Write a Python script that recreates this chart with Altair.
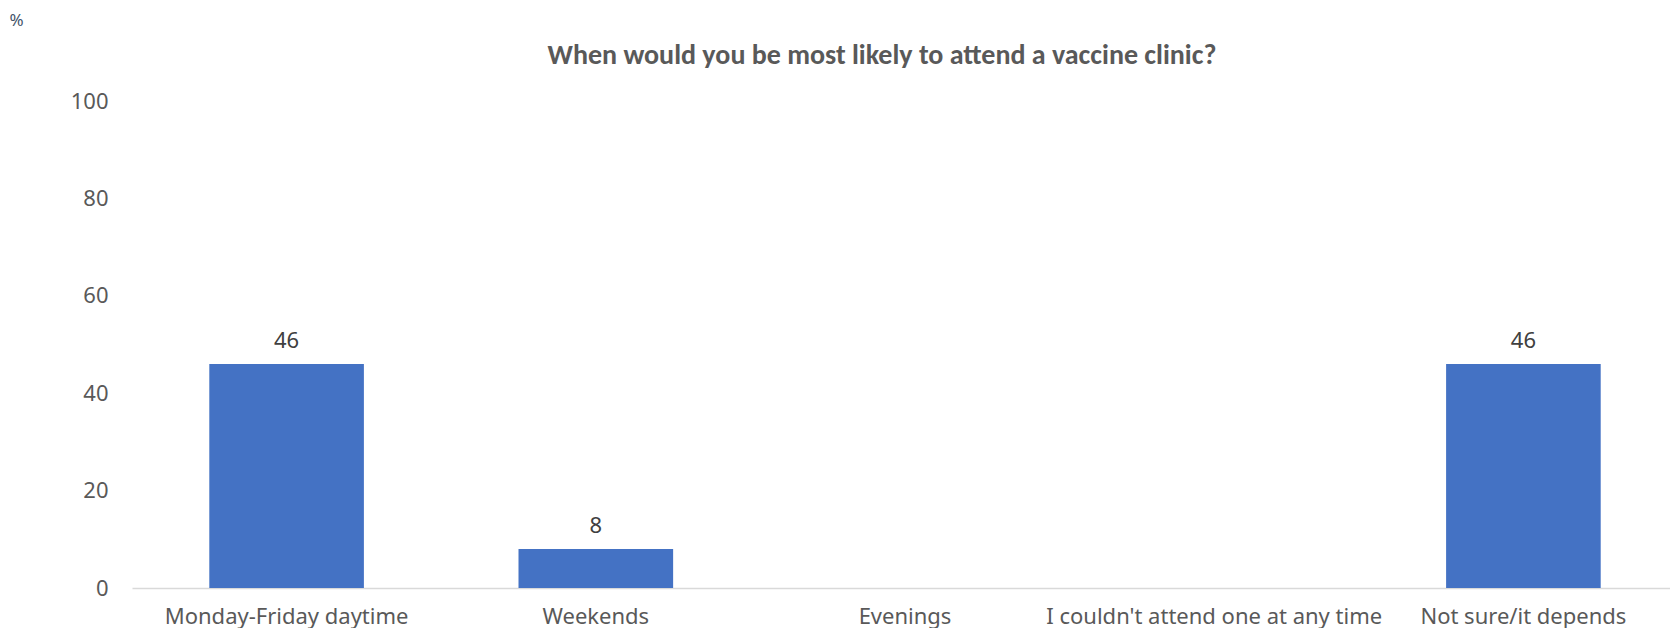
import altair as alt
import pandas as pd

categories = [
    "Monday-Friday daytime",
    "Weekends",
    "Evenings",
    "I couldn't attend one at any time",
    "Not sure/it depends",
]
values = [46, 8, 0, 0, 46]
y_ticks = [0, 20, 40, 60, 80, 100]
title_text = ["When would you be most likely to attend a vaccine clinic?"]

df = pd.DataFrame({"category": categories, "value": values})
title_df = pd.DataFrame({"title": title_text})

FONT = "Noto Sans, Open Sans, sans-serif"
TITLE_FONT = "Carlito, Calibri, Lato, sans-serif"
GREY = "#595959"

x_enc = alt.X(
    "category:N",
    sort=categories,
    scale=alt.Scale(paddingInner=0.5, paddingOuter=0.25, range=[0, 1546]),
    axis=alt.Axis(
        title=None,
        labelAngle=0,
        labelFontSize=22,
        labelColor=GREY,
        labelFont=FONT,
        labelPadding=18,
        ticks=False,
        tickSize=0,
        domainColor="#D9D9D9",
        domainWidth=1.5,
        labelLimit=400,
    ),
)

y_enc = alt.Y(
    "value:Q",
    scale=alt.Scale(domain=[0, 100], nice=False),
    axis=alt.Axis(
        title="%",
        titleAngle=0,
        titleAlign="left",
        titleBaseline="middle",
        titleX=-123,
        titleY=-81,
        titleFont=FONT,
        titleFontSize=17,
        titleFontWeight="normal",
        titleColor="#44546A",
        values=y_ticks,
        labelFontSize=22,
        labelColor=GREY,
        labelFont=FONT,
        labelPadding=24,
        ticks=False,
        tickSize=0,
        domain=False,
        grid=False,
    ),
)

bars = alt.Chart(df).mark_bar(color="#4472C4").encode(x=x_enc, y=y_enc)

labels = (
    alt.Chart(df)
    .transform_filter("datum.value > 0")
    .mark_text(dy=-23, baseline="middle", fontSize=22, font=FONT, color="#404040")
    .encode(x=alt.X("category:N", sort=categories), y="value:Q", text="value:Q")
)

title = (
    alt.Chart(title_df)
    .mark_text(
        align="center",
        baseline="middle",
        fontSize=28,
        fontWeight="bold",
        font=TITLE_FONT,
        color=GREY,
    )
    .encode(x=alt.value(750), y=alt.value(-45), text="title:N")
)

chart = (
    alt.layer(bars, labels, title)
    .properties(
        width=1538,
        height=487,
        padding={"left": 124, "top": 93, "right": 0, "bottom": 40},
        autosize=alt.AutoSizeParams(type="none"),
    )
    .configure_view(stroke=None)
)

chart.save("out.html", embed_options={"renderer": "svg", "actions": False})
